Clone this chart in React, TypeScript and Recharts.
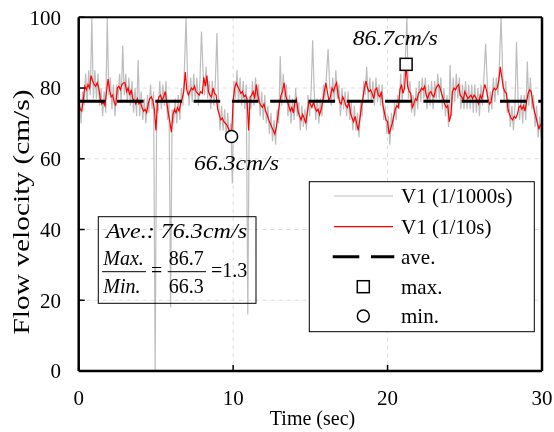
import React from "react";
import {
  ComposedChart,
  Line,
  XAxis,
  YAxis,
  CartesianGrid,
  ReferenceLine,
  ReferenceDot,
} from "recharts";

// V1 averaged over 1/10 s, one value per 0.1 s from t = 0 to 30 s
const redV = [
  75.5, 74.0, 73.5, 77.0, 80.5, 79.5, 81.0, 80.0, 83.5, 82.0,
  81.0, 80.5, 81.5, 80.0, 77.0, 75.5, 76.0, 75.0, 79.0, 82.5,
  79.5, 77.5, 78.0, 76.0, 75.0, 80.0, 80.5, 79.5, 81.0, 81.5,
  81.5, 79.0, 80.0, 78.0, 79.5, 77.0, 76.5, 75.5, 77.0, 75.5,
  76.0, 74.5, 73.5, 74.0, 73.0, 75.5, 77.0, 77.5, 76.5, 74.0,
  68.0, 76.0, 77.5, 78.0, 76.5, 77.5, 79.0, 76.0, 73.0, 70.5,
  67.5, 72.5, 74.0, 73.0, 74.5, 73.5, 75.5, 77.0, 79.0, 84.5,
  79.5, 78.0, 79.0, 80.0, 79.5, 80.5, 79.0, 78.5, 78.0, 79.0,
  78.5, 83.0, 80.5, 83.5, 79.0, 78.0, 77.5, 80.0, 78.5, 78.0,
  74.0, 72.5, 71.0, 71.5, 70.5, 70.0, 69.5, 68.5, 67.5, 66.3,
  76.5, 80.0, 81.5, 80.5, 79.5, 78.5, 79.0, 77.5, 78.0, 77.0,
  68.0, 77.5, 78.0, 79.0, 77.0, 81.0, 78.0, 76.0, 75.0, 74.5,
  75.5, 73.5, 72.5, 71.0, 70.0, 69.0, 68.0, 67.0, 69.0, 72.0,
  75.5, 78.0, 79.0, 81.5, 78.0, 76.5, 75.0, 73.5, 74.5, 73.0,
  76.0, 77.0, 73.5, 72.0, 71.0, 72.5, 71.5, 70.0, 73.0, 76.0,
  75.5, 74.5, 76.0, 74.5, 73.5, 74.0, 72.5, 74.0, 76.0, 79.0,
  81.5, 79.0, 76.5, 77.5, 80.0, 79.0, 80.5, 81.5, 78.0, 76.0,
  75.5, 77.5, 76.5, 75.0, 74.5, 76.0, 73.0, 71.5, 70.5, 72.0,
  70.0, 68.0, 71.0, 74.5, 77.0, 80.0, 82.0, 80.0, 79.0, 79.5,
  78.5, 77.0, 79.5, 80.0, 78.0, 77.5, 79.0, 75.0, 73.0, 71.0,
  70.5, 67.0, 68.5, 70.0, 72.0, 74.0, 75.0, 74.5, 79.5, 81.0,
  78.5, 80.0, 86.7, 80.5, 79.0, 78.5, 74.5, 75.5, 77.0, 76.5,
  78.5, 79.0, 80.0, 79.5, 80.5, 78.0, 77.0, 78.5, 79.0, 78.0,
  77.5, 79.5, 80.5, 81.0, 80.0, 78.5, 77.0, 75.5, 74.5, 75.0,
  70.5, 72.5, 79.0, 80.0, 79.5, 80.5, 81.0, 78.0, 77.5, 76.5,
  79.0, 78.0, 77.0, 77.5, 78.0, 77.0, 78.0, 77.5, 76.5, 75.5,
  78.0, 77.0, 79.0, 81.0, 79.5, 77.0, 75.5, 76.0, 79.0, 80.0,
  79.5, 80.0, 82.0, 86.0, 83.0, 80.0, 79.0, 78.5, 74.0, 72.5,
  71.5, 71.0, 72.0, 71.5, 72.5, 74.5, 75.0, 74.0, 75.0, 73.5,
  76.0, 78.5, 79.5, 79.0, 76.0, 73.5, 72.0, 70.0, 68.5, 69.5,
  70.0,
];

// V1 raw (1/1000 s) read coarsely, one value per 0.1 s centred between red samples
const grayV = [
  79, 70, 79, 75, 84, 76, 85, 78, 100, 77,
  85, 77, 84, 75, 80, 72, 79, 73, 100, 78,
  83, 74, 81, 72, 81, 77, 84, 76, 92, 78,
  84, 76, 83, 75, 82, 73, 80, 72, 88, 72,
  79, 71, 77, 70, 78, 73, 81, 74, 79, 0,
  76, 73, 82, 74, 81, 75, 82, 71, 76, 18,
  74, 70, 77, 70, 78, 71, 80, 75, 86, 100,
  83, 75, 83, 76, 84, 76, 83, 75, 82, 96,
  85, 78, 86, 77, 82, 74, 82, 75, 82, 95.5,
  77, 68, 75, 68, 74, 66, 73, 65, 70, 53,
  82, 77, 85, 76, 83, 75, 82, 74, 81, 16,
  76, 74, 82, 75, 83, 76, 81, 72, 79, 71,
  78, 70, 75, 67, 73, 65, 71, 64, 74, 70,
  89, 75, 84, 76, 81, 72, 78, 70, 77, 71,
  80, 72, 76, 68, 75, 69, 74, 68, 78, 72,
  79, 93.5, 79, 71, 77, 70, 77, 72, 81, 77,
  84, 91, 81, 75, 83, 76, 85, 77, 81, 72,
  80, 74, 79, 72, 79, 71, 76, 68, 75, 68,
  73, 66, 76, 72, 82, 78, 86, 76, 83, 76,
  82, 75, 83, 76, 81, 75, 81, 71, 75, 67,
  72, 64, 73, 68, 76, 71, 78, 74, 84, 76,
  83, 88, 100, 77, 82, 73, 78, 72, 80, 74,
  82, 76, 83, 77, 83, 74, 81, 75, 82, 74,
  82, 77, 84, 77, 83, 74, 80, 72, 78, 69,
  86.5, 72, 83, 76, 84, 77, 83, 74, 81, 74,
  82, 74, 81, 74, 81, 73, 81, 73, 80, 72,
  81, 75, 84, 92.5, 82, 73, 79, 74, 83, 76,
  83, 78, 88, 100, 85, 76, 82, 73, 77, 69,
  75, 68, 75, 93, 77, 71, 78, 70, 78, 71,
  87.5, 75, 83, 74, 78, 69, 75, 66, 72, 66,
];

const STEP = 0.1;
const AVE = 76.3;
const maxPoint = { t: 21.2, v: 86.7 };
const minPoint = { t: 9.9, v: 66.3 };
const xTicks = [0, 10, 20, 30];
const yTicks = [0, 20, 40, 60, 80, 100];
const legendLabels = ["V1 (1/1000s)", "V1 (1/10s)", "ave.", "max.", "min."];

const redRows = redV.map((v, i) => ({ t: +(i * STEP).toFixed(2), v }));
const grayRows = grayV.map((v, i) => ({ t: +(i * STEP + STEP / 2).toFixed(3), v }));

const FONT = "Liberation Serif, serif";
const W = 554;
const H = 432;

function SquareMark(p: any) {
  return <rect x={p.cx - 6} y={p.cy - 6} width={12} height={12} fill="#fff" stroke="#000" strokeWidth={1.5} />;
}

function CircleMark(p: any) {
  return <circle cx={p.cx} cy={p.cy} r={6} fill="#fff" stroke="#000" strokeWidth={1.5} />;
}

function Overlay() {
  // legend box (right) and summary box (left), page coordinates
  const lx = 309.3, ly = 181.7;
  const rows = [14.3, 45, 75, 105, 134.3];
  return (
    <svg width={W} height={H} style={{ position: "absolute", left: 0, top: 0, pointerEvents: "none", fontFamily: FONT }}>
      {/* annotations */}
      <text x={352.7} y={45} fontSize={22} fontStyle="italic" textLength={85} lengthAdjust="spacingAndGlyphs">86.7cm/s</text>
      <text x={194} y={170} fontSize={22} fontStyle="italic" textLength={85} lengthAdjust="spacingAndGlyphs">66.3cm/s</text>

      {/* axis titles */}
      <text x={312.5} y={425} fontSize={20} textAnchor="middle">Time (sec)</text>
      <text x={29} y={212} fontSize={23} textAnchor="middle" transform="rotate(-90 29 212)" textLength={245} lengthAdjust="spacingAndGlyphs">
        Flow velocity (cm/s)
      </text>

      {/* summary box */}
      <rect x={98.3} y={216.7} width={157.7} height={86.6} fill="none" stroke="#000" strokeWidth={1} />
      <text x={106} y={237.7} fontSize={22} fontStyle="italic" textLength={141} lengthAdjust="spacingAndGlyphs">Ave.: 76.3cm/s</text>
      <text x={103.3} y={265} fontSize={20} fontStyle="italic">Max.</text>
      <line x1={102} x2={146} y1={271.7} y2={271.7} stroke="#000" strokeWidth={1} />
      <text x={103.3} y={292.7} fontSize={20} fontStyle="italic">Min.</text>
      <text x={151} y={277} fontSize={20}>=</text>
      <text x={168.7} y={265} fontSize={20}>86.7</text>
      <line x1={167.7} x2={206} y1={271.7} y2={271.7} stroke="#000" strokeWidth={1} />
      <text x={168.7} y={292.7} fontSize={20}>66.3</text>
      <text x={211} y={277} fontSize={20}>=1.3</text>

      {/* legend */}
      <rect x={lx} y={ly} width={225} height={150} fill="#fff" stroke="#000" strokeWidth={1} />
      <line x1={334} x2={393} y1={ly + rows[0]} y2={ly + rows[0]} stroke="#bdbdbd" strokeWidth={1} />
      <line x1={334} x2={393} y1={ly + rows[1]} y2={ly + rows[1]} stroke="#ff0000" strokeWidth={1.2} />
      <line x1={332.7} x2={394.3} y1={ly + rows[2]} y2={ly + rows[2]} stroke="#000" strokeWidth={3} strokeDasharray="26.6 11.7" />
      <rect x={363.3 - 6} y={ly + rows[3] - 6} width={12} height={12} fill="#fff" stroke="#000" strokeWidth={1.5} />
      <circle cx={363.3} cy={ly + rows[4]} r={6} fill="#fff" stroke="#000" strokeWidth={1.5} />
      {legendLabels.map((s, i) => (
        <text key={s} x={401} y={ly + rows[i] + 7} fontSize={21}>{s}</text>
      ))}
    </svg>
  );
}

export default function App() {
  return (
    <div style={{ position: "fixed", left: 0, top: 0, width: W, height: H, fontFamily: FONT }}>
      <ComposedChart width={W} height={H} margin={{ top: 17.3, right: 12, left: 0, bottom: 0 }}>
        <CartesianGrid stroke="#dcdcdc" strokeDasharray="4 4" />
        <XAxis
          dataKey="t"
          type="number"
          domain={[0, 30]}
          ticks={xTicks}
          height={61}
          tickSize={-6}
          tickMargin={25}
          axisLine={{ stroke: "#000", strokeWidth: 2.5 }}
          tickLine={{ stroke: "#000", strokeWidth: 1.5 }}
          tick={{ fontSize: 21, fill: "#000", fontFamily: FONT }}
          allowDataOverflow
        />
        <YAxis
          type="number"
          domain={[0, 100]}
          ticks={yTicks}
          width={78.7}
          tickSize={-6}
          tickMargin={23.7}
          axisLine={{ stroke: "#000", strokeWidth: 2.5 }}
          tickLine={{ stroke: "#000", strokeWidth: 1.5 }}
          tick={{ fontSize: 21, fill: "#000", fontFamily: FONT }}
          allowDataOverflow
        />
        <Line data={grayRows} dataKey="v" stroke="#bdbdbd" strokeWidth={1.2} dot={false} isAnimationActive={false} />
        <Line data={redRows} dataKey="v" stroke="#ff0000" strokeWidth={1.2} dot={false} isAnimationActive={false} />
        <ReferenceLine y={AVE} stroke="#000" strokeWidth={3} strokeDasharray="26.6 11.7" />
        <ReferenceLine y={100} stroke="#000" strokeWidth={2} />
        <ReferenceLine x={30} stroke="#000" strokeWidth={2.5} />
        <ReferenceDot x={maxPoint.t} y={maxPoint.v} r={6} shape={SquareMark} />
        <ReferenceDot x={minPoint.t} y={minPoint.v} r={6} shape={CircleMark} />
      </ComposedChart>
      <Overlay />
    </div>
  );
}
